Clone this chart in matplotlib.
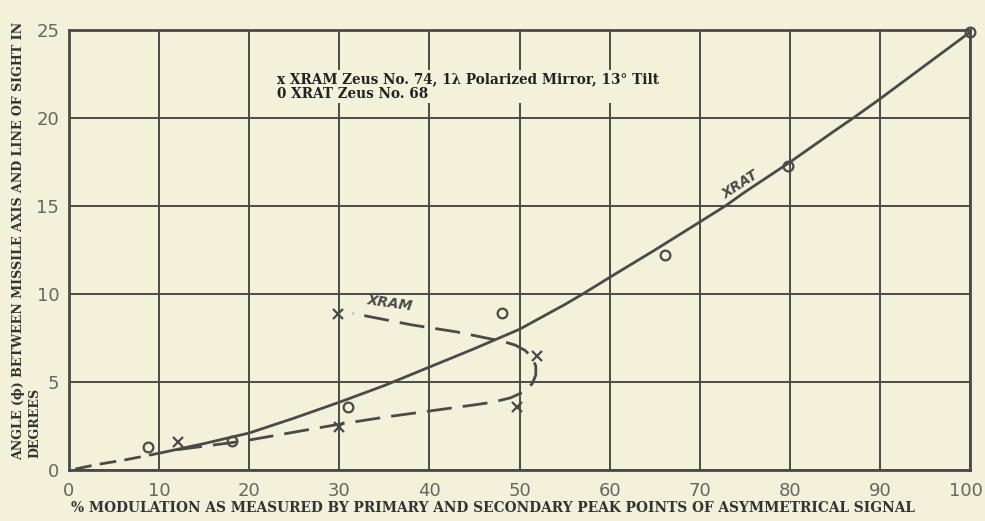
import numpy as np
import matplotlib.pyplot as plt
from matplotlib.transforms import ScaledTranslation

# data
xrat_pts_x = [8.8, 18.1, 31.0, 48.1, 66.1, 79.8, 100.0]
xrat_pts_y = [1.3, 1.65, 3.6, 8.9, 12.2, 17.3, 24.9]

xram_pts_x = [12.1, 30.0, 29.9, 51.9, 49.7]
xram_pts_y = [1.6, 2.45, 8.85, 6.5, 3.6]

# XRAT fitted curve (dashed part below 10 %, solid above)
xrat_low_x = [0.7, 3.0, 6.0, 10.0]
xrat_low_y = [0.05, 0.3, 0.55, 0.95]
xrat_curve_x = [10, 15, 20, 25, 30, 35, 40, 45, 50, 55, 57, 60, 65, 70, 72.8, 75, 80, 85, 87, 90, 95, 100]
xrat_curve_y = [0.95, 1.5, 2.1, 2.95, 3.85, 4.8, 5.85, 6.9, 8.0, 9.4, 10.0, 10.95, 12.5, 14.1, 15.0, 15.8, 17.5, 19.3, 20.0, 21.1, 23.0, 24.9]

# XRAM fitted curve (dashed, folds back near 52 %)
xram_curve_x = [12, 15, 18, 20, 25, 30, 35, 40, 45, 47, 49.0, 50.5, 51.4, 51.8, 51.8, 51.4, 50.6, 49.5, 48.2, 43.0, 38.0, 31.5]
xram_curve_y = [1.15, 1.35, 1.55, 1.7, 2.15, 2.6, 3.0, 3.35, 3.7, 3.85, 4.1, 4.45, 4.9, 5.4, 5.9, 6.4, 6.8, 7.1, 7.3, 7.85, 8.25, 8.9]

xticks = [0, 10, 20, 30, 40, 50, 60, 70, 80, 90, 100]
yticks = [0, 5, 10, 15, 20, 25]

paper = '#f3f1d9'
ink = '#4a4a48'

fig = plt.figure(figsize=(9.85, 5.21), dpi=100, facecolor=paper)
ax = fig.add_axes([0.070, 0.098, 0.915, 0.844], facecolor=paper)

ax.set_xlim(0, 100)
ax.set_ylim(0, 25)
ax.set_xticks(xticks)
ax.set_yticks(yticks)
ax.grid(True, color=ink, linewidth=1.4)
ax.tick_params(length=0, labelsize=13, labelcolor='#666662')
ax.tick_params(axis='x', pad=9)
ax.tick_params(axis='y', pad=7)
for s in ax.spines.values():
    s.set_color(ink)
    s.set_linewidth(2)
# keep "100" inside the figure
last = ax.get_xticklabels()[-1]
last.set_transform(last.get_transform() + ScaledTranslation(-0.04, 0, fig.dpi_scale_trans))

# curves
ax.plot(xrat_low_x, xrat_low_y, color=ink, lw=2, dashes=(6, 3))
ax.plot(xrat_curve_x, xrat_curve_y, color=ink, lw=2)
ax.plot(xram_curve_x, xram_curve_y, color=ink, lw=2, dashes=(9, 4))

# measured points
ax.plot(xrat_pts_x, xrat_pts_y, 'o', ms=7, mfc='none', mec=ink, mew=1.6, clip_on=False)
ax.plot(xram_pts_x, xram_pts_y, 'x', ms=7, mec=ink, mew=1.6)

ax.text(33, 8.9, 'XRAM', fontsize=10, fontweight='bold', style='italic',
        color=ink, rotation=-8, ha='left', va='bottom')
ax.text(74.5, 16.2, 'XRAT', fontsize=10, fontweight='bold', style='italic',
        color=ink, rotation=33, ha='center', va='center')

box = dict(facecolor=paper, edgecolor='none', pad=1.5)
ax.text(23.1, 21.8, 'x XRAM Zeus No. 74, 1\u03bb Polarized Mirror, 13\u00b0 Tilt\n0 XRAT Zeus No. 68',
        fontsize=9.8, fontweight='bold', family='DejaVu Serif', color='#222',
        ha='left', va='center', linespacing=1.05, bbox=box)

fig.text(0.5, 0.025, '% MODULATION AS MEASURED BY PRIMARY AND SECONDARY PEAK POINTS OF ASYMMETRICAL SIGNAL',
         fontsize=9.9, fontweight='bold', family='DejaVu Serif', color='#333',
         ha='center', va='center')
fig.text(0.019, 0.537, 'ANGLE (\u03d5) BETWEEN MISSILE AXIS AND LINE OF SIGHT IN',
         fontsize=9.1, fontweight='bold', family='DejaVu Serif', color='#333',
         rotation=90, ha='center', va='center')
fig.text(0.035, 0.188, 'DEGREES',
         fontsize=9.1, fontweight='bold', family='DejaVu Serif', color='#333',
         rotation=90, ha='center', va='center')

fig.savefig('out.png', dpi=100, facecolor=paper)
